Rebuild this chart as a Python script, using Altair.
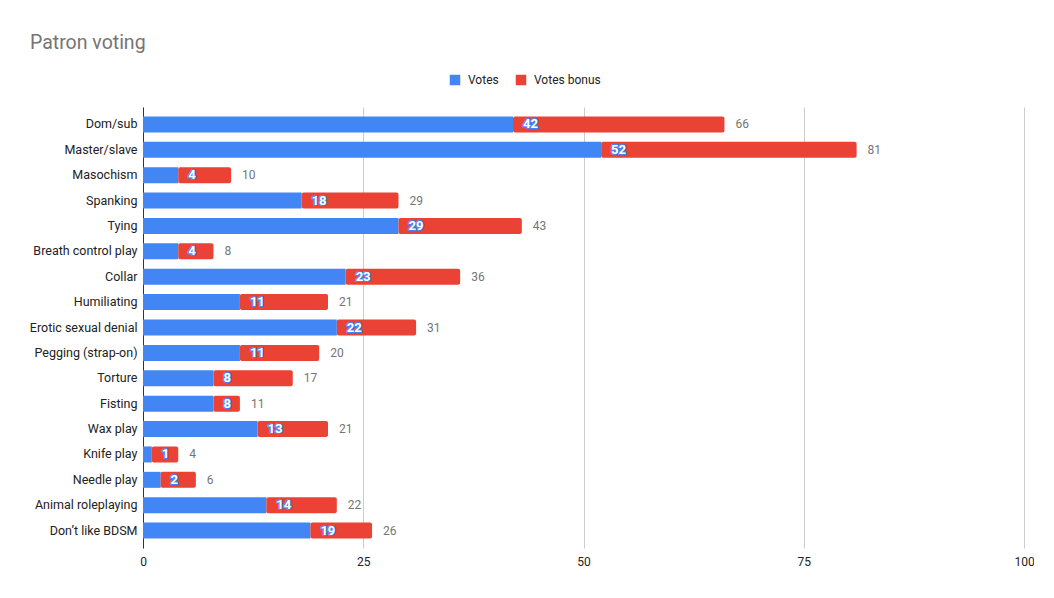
import altair as alt
import pandas as pd

categories = ["Dom/sub", "Master/slave", "Masochism", "Spanking", "Tying",
              "Breath control play", "Collar", "Humiliating", "Erotic sexual denial",
              "Pegging (strap-on)", "Torture", "Fisting", "Wax play", "Knife play",
              "Needle play", "Animal roleplaying", "Don\u2019t like BDSM"]
votes = [42, 52, 4, 18, 29, 4, 23, 11, 22, 11, 8, 8, 13, 1, 2, 14, 19]
totals = [66, 81, 10, 29, 43, 8, 36, 21, 31, 20, 17, 11, 21, 4, 6, 22, 26]
series_names = ["Votes", "Votes bonus"]
series_colors = ["#4285F4", "#EA4335"]
x_ticks = [0, 25, 50, 75, 100]

rows = []
for c, v, t in zip(categories, votes, totals):
    rows.append({"cat": c, "series": "Votes", "start": 0, "end": v})
    rows.append({"cat": c, "series": "Votes bonus", "start": v, "end": t})
long_df = pd.DataFrame(rows)
lab_df = pd.DataFrame({"cat": categories, "votes": votes, "total": totals})

FONT = "Roboto"

y_enc = alt.Y("cat:N", sort=categories, title=None,
              scale=alt.Scale(paddingInner=0.37, paddingOuter=0.37),
              axis=alt.Axis(ticks=False, labelPadding=6, labelFontSize=12.5,
                            labelColor="#222222", domainColor="#333333",
                            labelFont=FONT, grid=False))
x_scale = alt.Scale(domain=[0, 100], nice=False)
x_axis = alt.Axis(values=x_ticks, title=None, domain=False, ticks=False,
                  grid=True, gridColor="#cccccc", labelPadding=8, labelFlush=False,
                  labelFontSize=12, labelColor="#222222", labelFont=FONT)
color_enc = alt.Color("series:N",
                      scale=alt.Scale(domain=series_names, range=series_colors),
                      legend=alt.Legend(title=None, orient="none", direction="horizontal",
                                        columns=2, legendX=306, legendY=-33,
                                        symbolType="square", symbolSize=110,
                                        symbolStrokeWidth=0, labelFontSize=12,
                                        labelColor="#222222", labelFont=FONT,
                                        columnPadding=16, labelOffset=7))

base_bar = alt.Chart(long_df).encode(
    x=alt.X("start:Q", scale=x_scale, axis=x_axis),
    x2="end:Q",
    y=y_enc,
    color=color_enc,
)
blue = base_bar.transform_filter(alt.datum.series == "Votes").mark_bar()
red = base_bar.transform_filter(alt.datum.series == "Votes bonus").mark_bar(cornerRadiusEnd=2)

lab_base = alt.Chart(lab_df).encode(y=alt.Y("cat:N", sort=categories))
outline = lab_base.mark_text(align="left", baseline="middle", dx=10, font=FONT,
                             fontSize=13, fontWeight="bold", fill="#4285F4",
                             stroke="#4285F4", strokeWidth=2.2, strokeJoin="round").encode(
    x="votes:Q", text="votes:Q")
inner = lab_base.mark_text(align="left", baseline="middle", dx=10, font=FONT,
                           fontSize=13, fontWeight="bold", fill="#ffffff").encode(
    x="votes:Q", text="votes:Q")
tot = lab_base.mark_text(align="left", baseline="middle", dx=11, font=FONT,
                         fontSize=12, color="#757575").encode(
    x="total:Q", text="total:Q")

chart = alt.layer(blue, red, outline, inner, tot).properties(
    width=881, height=441,
    autosize=alt.AutoSizeParams(type="none"),
    padding={"left": 135, "top": 99, "right": 10, "bottom": 30},
    title=alt.TitleParams("Patron voting", anchor="start", frame="group",
                          dx=-113, fontSize=19.5, font=FONT, fontWeight="normal",
                          color="#757575", offset=21),
).configure_view(stroke=None)

chart.save("out.html", embed_options={"renderer": "svg", "actions": False})
